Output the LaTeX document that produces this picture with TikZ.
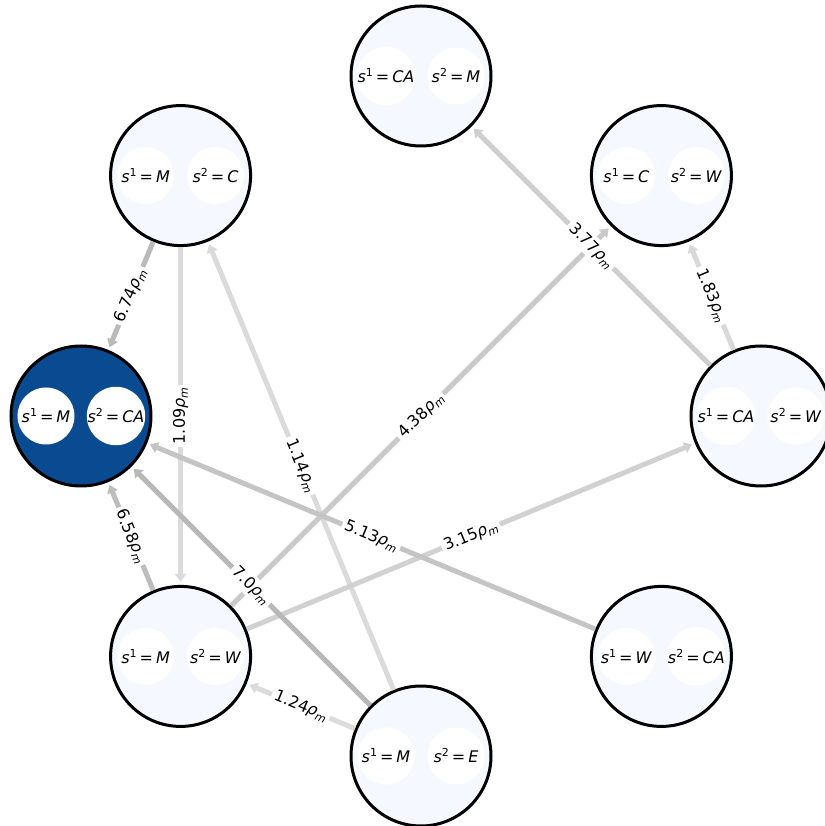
\documentclass[tikz,border=0pt]{standalone}
\usepackage{fontspec}
\setmainfont{DejaVu Sans}
\usepackage{tikz}
\usetikzlibrary{arrows.meta}

\definecolor{statefill}{RGB}{245,249,255}
\definecolor{activefill}{RGB}{10,74,145}

\newcommand{\sval}[2]{\textit{s}\raisebox{6pt}{\fontsize{11}{12}\selectfont #1}\hspace{3pt}=\hspace{3pt}\textit{#2}}
\newcommand{\rateval}[1]{#1\textit{ρ}\raisebox{-3pt}{\fontsize{11}{12}\selectfont\textit{m}}}

\tikzset{
  state/.style={circle,draw=black,line width=3pt,fill=statefill,minimum size=140pt,inner sep=0pt},
  active/.style={state,fill=activefill},
  slot/.style={circle,fill=white,minimum size=57pt,inner sep=0pt,font=\fontsize{16}{18}\selectfont},
  flow/.style={line width=5pt,-{Triangle[length=8pt,width=11pt]},shorten >=3pt},
  rate/.style={fill=white,inner sep=3pt,sloped,midway,font=\fontsize{16}{18}\selectfont}
}

\begin{document}
\begin{tikzpicture}[x=1pt,y=1pt]
\useasboundingbox (-421,-410) rectangle (403,416);
% states on a ring
\node[state] (caw) at (0:340) {};
\node[state] (cw) at (45:340) {};
\node[state] (cam) at (90:340) {};
\node[state] (mc) at (135:340) {};
\node[active] (mca) at (180:340) {};
\node[state] (mw) at (225:340) {};
\node[state] (me) at (270:340) {};
\node[state] (wca) at (315:340) {};
% the two agents of each state
\node[slot] (caw1) at ([xshift=-35pt]caw.center) {\sval{1}{CA}};
\node[slot] (caw2) at ([xshift=35pt]caw.center) {\sval{2}{W}};
\node[slot] (cw1) at ([xshift=-35pt]cw.center) {\sval{1}{C}};
\node[slot] (cw2) at ([xshift=35pt]cw.center) {\sval{2}{W}};
\node[slot] (cam1) at ([xshift=-35pt]cam.center) {\sval{1}{CA}};
\node[slot] (cam2) at ([xshift=35pt]cam.center) {\sval{2}{M}};
\node[slot] (mc1) at ([xshift=-35pt]mc.center) {\sval{1}{M}};
\node[slot] (mc2) at ([xshift=35pt]mc.center) {\sval{2}{C}};
\node[slot] (mca1) at ([xshift=-35pt]mca.center) {\sval{1}{M}};
\node[slot] (mca2) at ([xshift=35pt]mca.center) {\sval{2}{CA}};
\node[slot] (mw1) at ([xshift=-35pt]mw.center) {\sval{1}{M}};
\node[slot] (mw2) at ([xshift=35pt]mw.center) {\sval{2}{W}};
\node[slot] (me1) at ([xshift=-35pt]me.center) {\sval{1}{M}};
\node[slot] (me2) at ([xshift=35pt]me.center) {\sval{2}{E}};
\node[slot] (wca1) at ([xshift=-35pt]wca.center) {\sval{1}{W}};
\node[slot] (wca2) at ([xshift=35pt]wca.center) {\sval{2}{CA}};
% transitions
\draw[flow,draw=black!27] (mc) -- (mca);
\draw[flow,draw=black!14] (mc) -- (mw);
\draw[flow,draw=black!14] (me) -- (mc);
\draw[flow,draw=black!19] (caw) -- (cam);
\draw[flow,draw=black!15] (caw) -- (cw);
\draw[flow,draw=black!21] (mw) -- (cw);
\draw[flow,draw=black!18] (mw) -- (caw);
\draw[flow,draw=black!23] (wca) -- (mca);
\draw[flow,draw=black!26] (mw) -- (mca);
\draw[flow,draw=black!28] (me) -- (mca);
\draw[flow,draw=black!14] (me) -- (mw);
% rates on top
\path (mc) -- (mca) node[rate] {\rateval{6.74}};
\path (mw) -- (mc) node[rate] {\rateval{1.09}};
\path (me) -- (mc) node[rate] {\rateval{1.14}};
\path (caw) -- (cam) node[rate] {\rateval{3.77}};
\path (caw) -- (cw) node[rate] {\rateval{1.83}};
\path (mw) -- (cw) node[rate] {\rateval{4.38}};
\path (mw) -- (caw) node[rate] {\rateval{3.15}};
\path (wca) -- (mca) node[rate] {\rateval{5.13}};
\path (mw) -- (mca) node[rate] {\rateval{6.58}};
\path (me) -- (mca) node[rate] {\rateval{7.0}};
\path (me) -- (mw) node[rate] {\rateval{1.24}};
\end{tikzpicture}
\end{document}
